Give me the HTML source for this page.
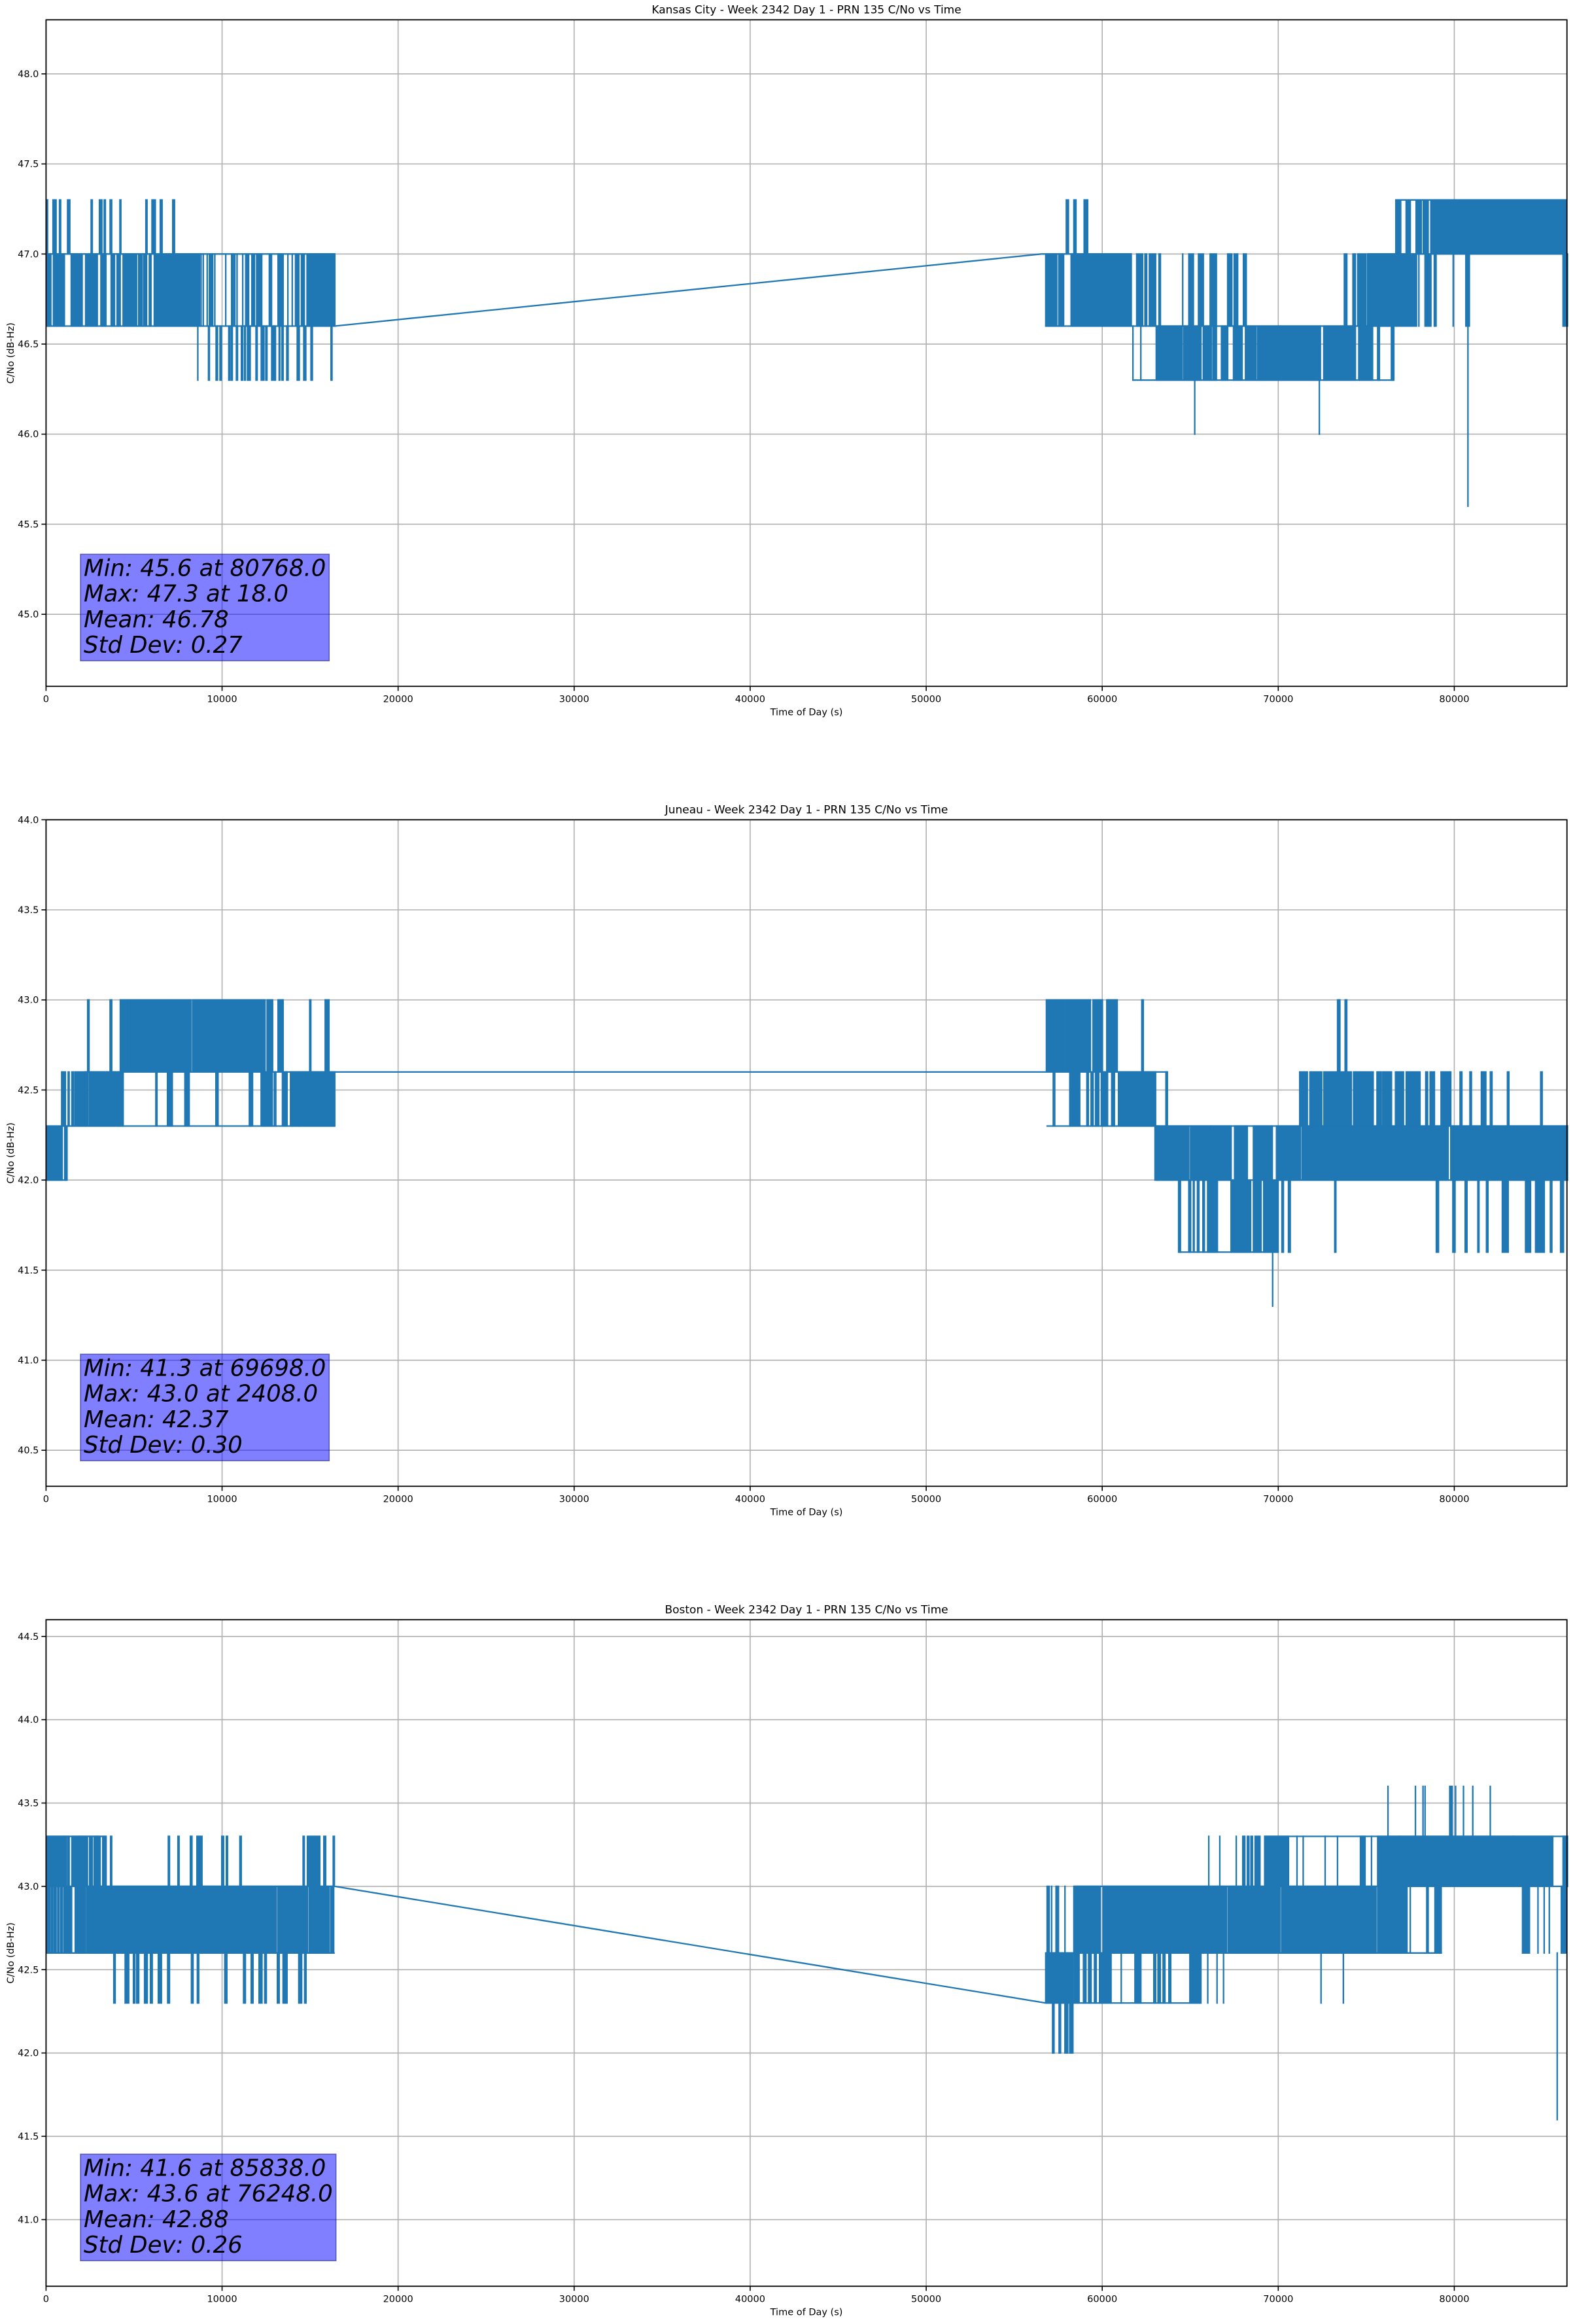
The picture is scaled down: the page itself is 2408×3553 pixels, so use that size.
<!DOCTYPE html>
<html><head><meta charset="utf-8"><style>
html,body{margin:0;padding:0;background:#fff;}
svg text{font-family:"DejaVu Sans","Liberation Sans",sans-serif;}
</style></head><body>
<svg id="chart" xmlns="http://www.w3.org/2000/svg" width="2408" height="3548" viewBox="0 0 2408 3548"></svg>
<script>
// ---------- DATA ----------
const xTicks = [0,10000,20000,30000,40000,50000,60000,70000,80000];
const titles = ["Kansas City - Week 2342 Day 1 - PRN 135 C/No vs Time","Juneau - Week 2342 Day 1 - PRN 135 C/No vs Time","Boston - Week 2342 Day 1 - PRN 135 C/No vs Time"];
const yLims = [[44.6,48.3],[40.3,44.0],[40.6,44.6]];
const yTicks1 = [45.0,45.5,46.0,46.5,47.0,47.5,48.0];
const yTicks2 = [40.5,41.0,41.5,42.0,42.5,43.0,43.5,44.0];
const yTicks3 = [41.0,41.5,42.0,42.5,43.0,43.5,44.0,44.5];
const stats1 = ["Min: 45.6 at 80768.0","Max: 47.3 at 18.0","Mean: 46.78","Std Dev: 0.27"];
const stats2 = ["Min: 41.3 at 69698.0","Max: 43.0 at 2408.0","Mean: 42.37","Std Dev: 0.30"];
const stats3 = ["Min: 41.6 at 85838.0","Max: 43.6 at 76248.0","Mean: 42.88","Std Dev: 0.26"];

// bands: [lo, hi, [t0,t1, t0,t1, ...]]
const kcBands = [
 [46.6,47.0,[20,270,420,1040,1430,1880,1930,2050,2250,2910,3120,3400,3700,3890,4040,4210,4380,5140,5260,5440,5540,5710,5870,5960,6150,8720,8807,8807,8931,8931,9154,9154,9278,9464,9588,9588,10208,10208,10542,10641,10727,10727,10851,10851,11173,11173,11347,11508,11694,11843,11967,12252,12685,12809,13181,13466,13739,13739,13986,13986,14172,14358,14507,14606,14668,14668,14829,15721,15783,16155,16217,16403]],
 [47.0,47.3,[23,85,395,568,766,828,1225,1349,2563,2625,3034,3170,3306,3368,3641,3727,4198,4248,5673,5735,6020,6069,6131,6205,6490,6590,7197,7296]],
 [46.3,46.6,[8622,8622,9229,9278,9662,9737,9885,9960,10381,10430,10517,10579,10815,10876,11099,11161,11273,11322,11446,11595,11930,11992,12227,12376,12487,12549,12822,13032,13243,13280,13404,13466,13677,13751,14271,14383,14643,14755,15052,15126,16192,16242]],
 [46.6,47.0,[56791,56986,57025,57181,57259,57415,57532,57805,58234,61647,61959,62290,62427,62524,62680,63031,63226,63304,64572,64572,64923,65176,65469,65742,66132,66483,67126,67360,67497,67692,68023,68179,73756,73893,74244,74380,74517,74965,75063,77851,77988,77988,78339,78670,78865,78963,79938,79938,80659,80854,86178,86431]],
 [47.0,47.3,[57961,58078,58390,58507,58975,59170,76681,76954,77266,77500,77832,78124,78241,78514,78670,86373]],
 [46.3,46.6,[61744,61744,62193,62193,63070,64533,64630,65605,65742,66190,66288,66483,66775,67126,67458,67945,68140,68725,68823,72391,72586,74380,74575,75355,75648,75745,76428,76564]],
 [46.0,46.3,[65254,65254,72333,72333]],
 [45.6,46.6,[80776,80776]]
];
const kcHlines = [[0,16403,47.0],[0,16403,46.6],[56540,61647,47.0],[56791,76564,46.6],[61744,76564,46.3],[75063,86431,47.0],[76681,86373,47.3]];
const kcLinks = [[16403,46.6,56540,47.0]];

const jnBands = [
 [42.0,42.3,[23,915,1060,1100,1140,1190]],
 [42.3,42.6,[890,1100,1260,1310,1470,1570,1660,2220,2240,2370,2460,4140,4170,4380,6240,6300,6900,6980,7050,7170,7890,8130,9650,9770,11550,11610,11660,11730,12220,12340,12380,12850,12970,13050,13430,13540,13600,13690,13890,14330,14360,16220,16280,16400]],
 [42.6,43.0,[2365,2440,3640,3730,4220,4595,4670,4820,4855,5190,5215,5960,6000,7050,7085,8225,8325,9005,9055,12440,12560,12870,13180,13466,14980,15040,15860,16070]],
 [42.6,43.0,[56830,57844,57920,58490,58550,59330,59480,59600,59660,60010,60260,60500,60540,60850,62250,62330,73370,73500,73800,73890]],
 [42.3,42.6,[57220,57300,58160,58720,59130,59210,59370,59480,59620,59800,59950,60300,60540,60690,60925,62875,62950,63030,63620,63700,71220,71650,71800,72470,72590,74150,74280,75390,75610,75850,75940,76430,76660,77110,77270,78050,78380,78480,78630,78870,79250,79800,80330,80430,80890,80970,81540,81790,82050,82140,83020,83100,84910,84990]],
 [42.0,42.3,[63000,63160,63110,64920,65020,66150,66190,67320,67520,68240,68590,69660,69900,71260,71360,79650,79800,86430]],
 [41.6,42.0,[64340,64440,64920,65020,65180,65220,65410,65490,65720,65800,65990,66540,67320,67590,67590,68430,68590,69020,69170,69600,69620,69990,70210,70290,70580,70680,73210,73270,78980,79100,79920,80040,80620,80720,81340,81400,81830,81910,82730,83060,84050,84330,84620,85110,85460,85540,86040,86200]],
 [41.3,41.6,[69680,69680]]
];
const jnHlines = [[0,1190,42.0],[900,16400,42.3],[2200,16400,42.6],[56830,63700,42.6],[56830,86430,42.3],[63110,86430,42.0],[64340,70000,41.6]];
const jnLinks = [[16400,42.6,56830,42.6]];

const bsBands = [
 [43.0,43.3,[23,1014,1064,1138,1225,1311,1470,1880,1930,2350,2476,2625,2736,2860,2900,3070,3220,3410,3666,3727,6949,7011,7494,7556,8200,8287,8572,8721,8795,8857,9984,10083,10245,10307,11013,11087,14606,14668,14850,15550,15783,15882,16316,16378]],
 [42.6,43.0,[23,72,122,209,295,382,469,568,667,729,828,915,1014,1450,1660,2215,2300,2490,2515,13060,13160,14850,14950,16090,16190,16340]],
 [42.3,42.6,[3851,3926,4496,4694,4966,5041,5152,5264,5598,5747,5933,6032,6379,6552,6912,7011,8262,8349,8597,8671,10158,10270,11223,11322,11657,11756,12103,12264,12425,12512,13144,13243,13466,13578,13615,13689,14358,14519,14693,14767]],
 [42.3,42.6,[56790,57510,57570,58350,58429,58683,58936,59073,59229,59365,59560,59658,59850,60500,61081,61081,61861,62193,62934,63031,63170,63300,63460,63560,63790,63889,64981,65605,65995,65995,66522,66522,66892,66892,72430,72430,73698,73698]],
 [42.0,42.3,[57181,57259,57552,57630,57883,58039,58156,58332]],
 [42.6,43.0,[56869,56986,57123,57123,57376,57513,57883,57883,58390,59890,60050,65410,65470,67070,67170,70090,70190,75550,75650,77310,77500,77500,78436,78514,78904,79255]],
 [43.0,43.3,[66053,66053,66678,66678,67614,67614,67984,68100,68250,68330,68450,68530,68686,68959,69230,70580,71065,71065,71416,71416,72664,72664,73366,73366,74670,74930,75297,75297,75650,76880,76880,83350,83350,85590,86180,86430]],
 [43.3,43.6,[76233,76233,77793,77793,78222,78222,78339,78339,79743,79879,80074,80074,80523,80523,81049,81049,82044,82044]],
 [42.6,43.0,[83877,84267,84754,84754,85105,85105,85398,85398,86080,86373]],
 [41.6,42.6,[85846,85846]]
];
const bsHlines = [[0,16400,43.0],[0,16400,42.6],[0,3410,43.3],[56790,65605,42.3],[56790,79300,42.6],[58390,86430,43.0],[69230,86430,43.3]];
const bsLinks = [[16400,43.0,56790,42.3]];

// ---------- LAYOUT ----------
const NS = "http://www.w3.org/2000/svg";
const svg = document.getElementById('chart');
const AX_L = 70.4, AX_R = 2395.7, AX_H = 1019, XMAX = 86400;
const tops = [30.3, 1253.3, 2476.3];
const BLUE = "#1f77b4";
const LW = 2.3;
function mk(tag, attrs, parent){ const e=document.createElementNS(NS,tag); for(const k in attrs) e.setAttribute(k,attrs[k]); (parent||svg).appendChild(e); return e; }
function xs(t){ return AX_L + t*(AX_R-AX_L)/XMAX; }

const plots = [
 {bands:kcBands,hl:kcHlines,links:kcLinks,yt:yTicks1,stats:stats1,name:'kansas-city'},
 {bands:jnBands,hl:jnHlines,links:jnLinks,yt:yTicks2,stats:stats2,name:'juneau'},
 {bands:bsBands,hl:bsHlines,links:bsLinks,yt:yTicks3,stats:stats3,name:'boston'}
];

plots.forEach((p,i)=>{
  const top = tops[i], bot = top+AX_H;
  const [ymin,ymax] = yLims[i];
  const ys = v => top + (ymax - v)*AX_H/(ymax-ymin);
  const g = mk('g',{});
  
  
  xTicks.forEach(t=>{
    const l = mk('line',{x1:xs(t),x2:xs(t),y1:top,y2:bot,stroke:'#b0b0b0','stroke-width':1.6},g);
    
    
    const tk = mk('line',{x1:xs(t),x2:xs(t),y1:bot,y2:bot+7,stroke:'#000','stroke-width':1.6},g);
    
    
    const tx = mk('text',{x:xs(t),y:bot+24,'font-size':14.5,'text-anchor':'middle',fill:'#000'},g);
    tx.textContent = String(t);
    
    
  });
  p.yt.forEach(v=>{
    const l = mk('line',{x1:AX_L,x2:AX_R,y1:ys(v),y2:ys(v),stroke:'#b0b0b0','stroke-width':1.6},g);
    
    
    const tk = mk('line',{x1:AX_L-7,x2:AX_L,y1:ys(v),y2:ys(v),stroke:'#000','stroke-width':1.6},g);
    
    
    const tx = mk('text',{x:AX_L-11,y:ys(v)+5,'font-size':14.5,'text-anchor':'end',fill:'#000'},g);
    tx.textContent = v.toFixed(1);
    
    
  });
  const dg = mk('g',{fill:BLUE},g);
  
  
  p.bands.forEach(b=>{
    const lo=b[0], hi=b[1], sp=b[2];
    for(let k=0;k<sp.length;k+=2){
      const x0 = xs(sp[k]) - LW/2, x1 = xs(sp[k+1]) + LW/2;
      const r = mk('rect',{x:x0,y:ys(hi)-LW/2,width:Math.max(LW,x1-x0),height:ys(lo)-ys(hi)+LW},dg);
      
      
    }
  });
  p.hl.forEach(h=>{
    const l = mk('line',{x1:xs(h[0]),x2:xs(h[1]),y1:ys(h[2]),y2:ys(h[2]),stroke:BLUE,'stroke-width':LW},dg);
    
    
  });
  p.links.forEach(h=>{
    const l = mk('line',{x1:xs(h[0]),y1:ys(h[1]),x2:xs(h[2]),y2:ys(h[3]),stroke:BLUE,'stroke-width':LW},dg);
    
    
  });
  const sp = mk('rect',{x:AX_L,y:top,width:AX_R-AX_L,height:AX_H,fill:'none',stroke:'#000','stroke-width':1.8},g);
  
  
  const ti = mk('text',{x:(AX_L+AX_R)/2,y:top-10,'font-size':17,'text-anchor':'middle',fill:'#000'},g);
  ti.textContent = titles[i];
  
  
  const xl = mk('text',{x:(AX_L+AX_R)/2,y:bot+44,'font-size':14.5,'text-anchor':'middle',fill:'#000'},g);
  xl.textContent = 'Time of Day (s)';
  
  
  const yl = mk('text',{x:0,y:0,'font-size':14.5,'text-anchor':'middle',fill:'#000',transform:`translate(21,${top+AX_H/2}) rotate(-90)`},g);
  yl.textContent = 'C/No (dB-Hz)';
  
  
  const sg = mk('g',{},g);
  
  
  const bx = mk('rect',{x:123,y:top+817,width:374,height:163,fill:'rgba(0,0,255,0.5)',stroke:'rgba(0,0,100,0.5)','stroke-width':1.5},sg);
  
  
  let maxW = 0;
  p.stats.forEach((s,k)=>{
    const t = mk('text',{x:128,y:top+850+k*39.3,'font-size':35.5,'font-style':'italic',fill:'#000'},sg);
    t.textContent = s;
    
    
    maxW = Math.max(maxW, t.getComputedTextLength());
  });
  if(maxW>0) bx.setAttribute('width', maxW + 10);
});
</script>
</body></html>
